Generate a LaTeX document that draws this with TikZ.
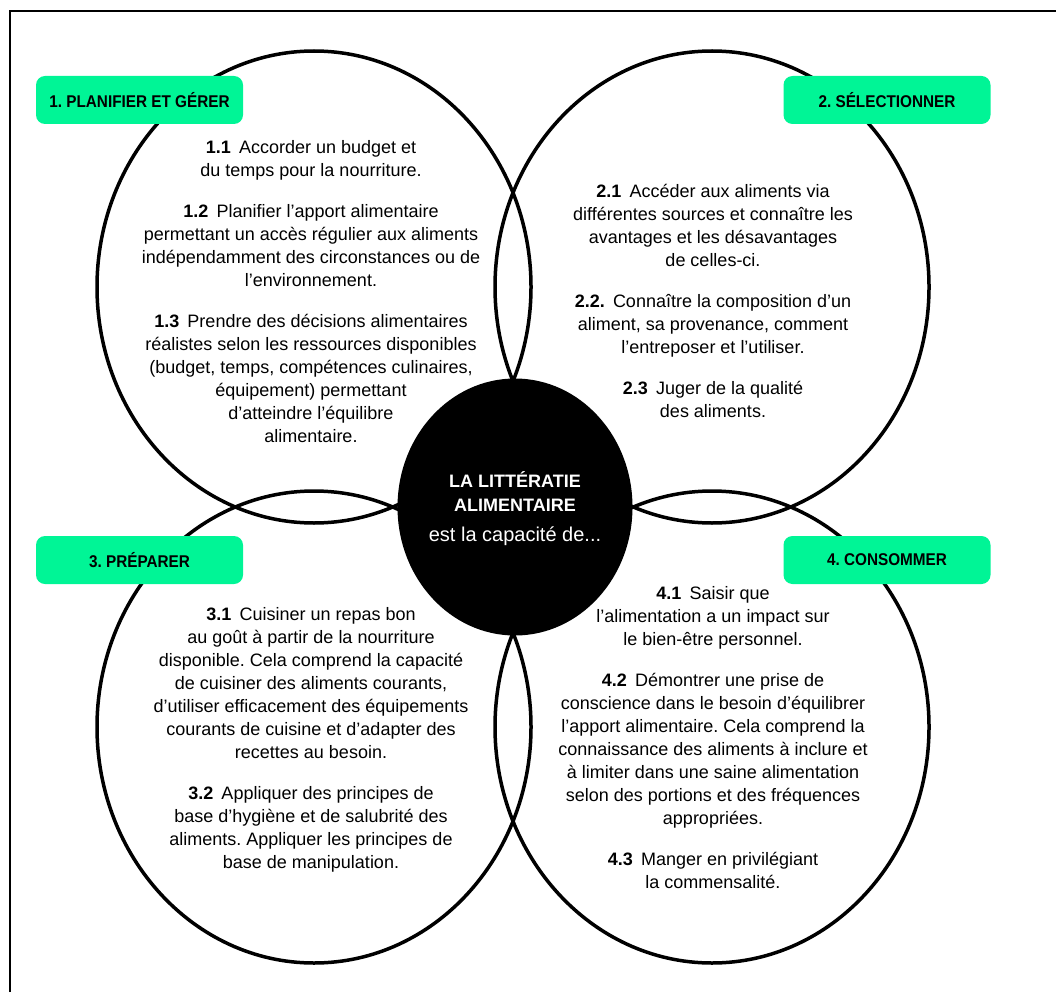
\documentclass[tikz,border=0pt]{standalone}
\usepackage{fontspec}
\setmainfont{Liberation Sans}
\usetikzlibrary{shapes.geometric}
\definecolor{tagGreen}{RGB}{0,245,150}
\newcommand{\secno}[1]{\textbf{#1}\hspace{0.45em}}
\newcommand{\tagtext}[1]{\scalebox{0.9}[1]{#1}}
\frenchspacing

\begin{document}
\begin{tikzpicture}[x=1pt, y=-1pt,
  ring/.style={draw, ellipse, line width=3.5pt, inner sep=0pt, minimum width=434pt, minimum height=472pt},
  tag/.style={fill=tagGreen, rounded corners=9pt, minimum width=207pt, minimum height=48pt, inner sep=0pt, font=\bfseries\fontsize{17}{20}\selectfont},
  blurb/.style={align=center, anchor=north, inner sep=0pt, font=\fontsize{18}{23}\selectfont}]
  \useasboundingbox (0,0) rectangle (1056,992);
  \draw[line width=2pt] (10,992) -- (10,11) -- (1056,11);

  \node[ring] (plan) at (314,287) {};
  \node[ring] (select) at (712,287) {};
  \node[ring] (prep) at (314,727) {};
  \node[ring] (eat) at (712,727) {};

  \node[ellipse, fill=black, inner sep=0pt, minimum width=235pt, minimum height=257pt] (core) at (515,507) {};
  \node[align=center, anchor=north, inner sep=0pt, text=white, font=\fontsize{18}{24}\selectfont] (coretext) at (515,471)
    {\textbf{LA LITTÉRATIE}\\ \textbf{ALIMENTAIRE}\\[6pt] {\fontsize{20}{24}\selectfont est la capacité de...}};

  \node[tag] (tplan) at (139.5,100) {\tagtext{1. PLANIFIER ET GÉRER}};
  \node[tag] (tselect) at (887,100) {\tagtext{2. SÉLECTIONNER}};
  \node[tag] (tprep) at (139.5,560) {\tagtext{3. PRÉPARER}};
  \node[tag] (teat) at (887,560) {\tagtext{4. CONSOMMER}};

  \node[blurb] (bplan) at (311,140) {\secno{1.1}Accorder un budget et\\ du temps pour la nourriture.\\[18pt]
    \secno{1.2}Planifier l’apport alimentaire\\ permettant un accès régulier aux aliments\\ indépendamment des circonstances ou de\\ l’environnement.\\[18pt]
    \secno{1.3}Prendre des décisions alimentaires\\ réalistes selon les ressources disponibles\\ (budget, temps, compétences culinaires,\\ équipement) permettant\\ d’atteindre l’équilibre\\ alimentaire.};
  \node[blurb] (bselect) at (713,184) {\secno{2.1}Accéder aux aliments via\\ différentes sources et connaître les\\ avantages et les désavantages\\ de celles-ci.\\[18pt]
    \secno{2.2.}Connaître la composition d’un\\ aliment, sa provenance, comment\\ l’entreposer et l’utiliser.\\[18pt]
    \secno{2.3}Juger de la qualité\\ des aliments.};
  \node[blurb] (bprep) at (311,607) {\secno{3.1}Cuisiner un repas bon\\ au goût à partir de la nourriture\\ disponible. Cela comprend la capacité\\ de cuisiner des aliments courants,\\ d’utiliser efficacement des équipements\\ courants de cuisine et d’adapter des\\ recettes au besoin.\\[18pt]
    \secno{3.2}Appliquer des principes de\\ base d’hygiène et de salubrité des\\ aliments. Appliquer les principes de\\ base de manipulation.};
  \node[blurb] (beat) at (713,586) {\secno{4.1}Saisir que\\ l’alimentation a un impact sur\\ le bien-être personnel.\\[18pt]
    \secno{4.2}Démontrer une prise de\\ conscience dans le besoin d’équilibrer\\ l’apport alimentaire. Cela comprend la\\ connaissance des aliments à inclure et\\ à limiter dans une saine alimentation\\ selon des portions et des fréquences\\ appropriées.\\[18pt]
    \secno{4.3}Manger en privilégiant\\ la commensalité.};
\end{tikzpicture}
\end{document}
